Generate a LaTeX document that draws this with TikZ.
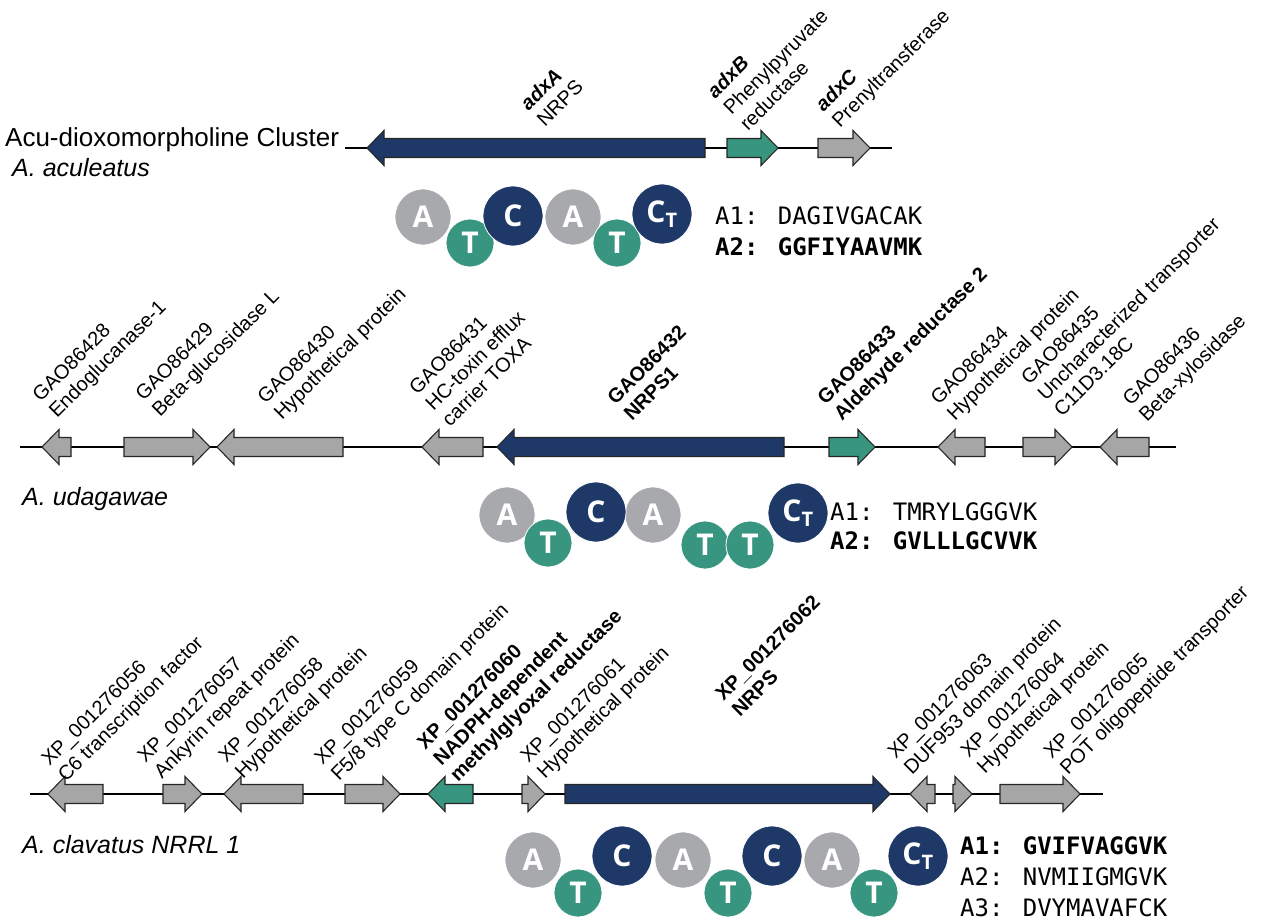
\documentclass[tikz,border=0pt]{standalone}
\usepackage{fontspec}
\setmainfont{Liberation Sans}
\newfontfamily\seqfont{DejaVu Sans Mono}
\newfontfamily\domfont{Open Sans}
\definecolor{nrpsblue}{RGB}{30,57,104}
\definecolor{redgreen}{RGB}{56,150,128}
\definecolor{othergray}{RGB}{166,166,166}
\definecolor{domgray}{RGB}{168,169,173}
\tikzset{
  backbone/.style={line width=2.6pt, black},
  genebox/.style={draw=black!85, line width=1.1pt, line join=miter},
  glabel/.style={rotate=45, anchor=south west, align=left, inner sep=0pt,
    text depth=0pt, font=\fontsize{20}{23}\selectfont},
  species/.style={anchor=base west, inner sep=0pt,
    font=\fontsize{25}{28}\selectfont\itshape},
  dom/.style={circle, inner sep=0pt, text=white, draw=white, line width=0.8pt,
    font=\fontsize{30}{30}\domfont\bfseries},
  adom/.style={dom, fill=domgray, minimum size=56pt},
  tdom/.style={dom, fill=redgreen, minimum size=48pt, text depth=-6pt},
  cdom/.style={dom, fill=nrpsblue, minimum size=60pt},
  seq/.style={anchor=west, inner sep=0pt, font=\fontsize{24}{24}\seqfont}
}
% colour, tail x, tip x, y, name
\newcommand{\gene}[5]{
  \pgfmathsetmacro{\gdir}{sign(#3-#2)}
  \pgfmathsetmacro{\ghead}{#3-\gdir*min(17,abs(#3-#2))}
  \draw[genebox, fill=#1] (#2,#4-9.5) -- (\ghead,#4-9.5) -- (\ghead,#4-17.5)
    -- (#3,#4) -- (\ghead,#4+17.5) -- (\ghead,#4+9.5) -- (#2,#4+9.5) -- cycle;
  \coordinate (#5) at ({(#2+#3)/2},#4);
}
\newcommand{\ctdom}{C\textsubscript{\fontsize{20}{20}\selectfont T}}

\begin{document}
\begin{tikzpicture}[x=1pt, y=-1pt]
  \useasboundingbox (0,0) rectangle (1268,917);

  % Aspergillus aculeatus
  \node[anchor=base west, inner sep=0pt, font=\fontsize{26}{28}\selectfont] (title) at (5,147) {Acu-dioxomorpholine Cluster};
  \node[species] (sp1) at (12,177) {A. aculeatus};
  \coordinate (topL) at (345,148);
  \coordinate (topR) at (892,148);
  \draw[backbone] (topL) -- (topR);
  \gene{nrpsblue}{705}{367}{148}{adxA}
  \gene{redgreen}{727}{778}{148}{adxB}
  \gene{othergray}{818}{870}{148}{adxC}
  \node[glabel] (ladxA) at (545,128) {\textbf{\textit{adxA}}\\NRPS};
  \node[glabel] (ladxB) at (748,132) {\textbf{\textit{adxB}}\\Phenylpyruvate\\reductase};
  \node[glabel] (ladxC) at (840,129) {\textbf{\textit{adxC}}\\Prenyltransferase};

  \node[adom] (a11) at (423,217) {A};
  \node[adom] (a12) at (573,217) {A};
  \node[tdom] (t11) at (470,243) {T};
  \node[tdom] (t12) at (617,243) {T};
  \node[cdom] (c11) at (513,216) {C};
  \node[cdom] (c12) at (662,214) {\ctdom};
  \node[seq] (s11) at (715,216) {A1: DAGIVGACAK};
  \node[seq, font=\fontsize{24}{24}\seqfont\bfseries] (s12) at (715,247) {A2: GGFIYAAVMK};

  % Aspergillus udagawae
  \node[species] (sp2) at (22,505) {A. udagawae};
  \coordinate (midL) at (20,447);
  \coordinate (midR) at (1176,447);
  \draw[backbone] (midL) -- (midR);
  \gene{othergray}{71}{42}{447}{g428}
  \gene{othergray}{124}{210}{447}{g429}
  \gene{othergray}{343}{217}{447}{g430}
  \gene{othergray}{483}{422}{447}{g431}
  \gene{nrpsblue}{784}{497}{447}{g432}
  \gene{redgreen}{829}{875}{447}{g433}
  \gene{othergray}{985}{938}{447}{g434}
  \gene{othergray}{1023}{1072}{447}{g435}
  \gene{othergray}{1149}{1100}{447}{g436}
  \node[glabel] (l428) at (57,419) {GAO86428\\Endoglucanase-1};
  \node[glabel] (l429) at (160,418) {GAO86429\\Beta-glucosidase L};
  \node[glabel] (l430) at (282,421) {GAO86430\\Hypothetical protein};
  \node[glabel] (l431) at (450,428) {GAO86431\\HC-toxin efflux\\carrier TOXA};
  \node[glabel, font=\fontsize{20}{23}\selectfont\bfseries] (l432) at (632,422) {GAO86432\\NRPS1};
  \node[glabel, font=\fontsize{20}{23}\selectfont\bfseries] (l433) at (842,422) {GAO86433\\Aldehyde reductase 2};
  \node[glabel] (l434) at (955,422) {GAO86434\\Hypothetical protein};
  \node[glabel] (l435) at (1062,418) {GAO86435\\Uncharacterized transporter\\C11D3.18C};
  \node[glabel] (l436) at (1147,423) {GAO86436\\Beta-xylosidase};

  \node[adom] (a21) at (507,515) {A};
  \node[adom] (a22) at (653,515) {A};
  \node[tdom] (t21) at (548,543) {T};
  \node[tdom] (t22) at (705,545) {T};
  \node[tdom] (t23) at (750,545) {T};
  \node[cdom] (c21) at (596,512) {C};
  \node[cdom] (c22) at (798,513) {\ctdom};
  \node[seq] (s21) at (830,512) {A1: TMRYLGGGVK};
  \node[seq, font=\fontsize{24}{24}\seqfont\bfseries] (s22) at (830,541) {A2: GVLLLGCVVK};

  % Aspergillus clavatus
  \node[species] (sp3) at (22,853) {A. clavatus NRRL 1};
  \coordinate (botL) at (30,794);
  \coordinate (botR) at (1103,794);
  \draw[backbone] (botL) -- (botR);
  \gene{othergray}{103}{48}{794}{x056}
  \gene{othergray}{163}{202}{794}{x057}
  \gene{othergray}{303}{224}{794}{x058}
  \gene{othergray}{345}{400}{794}{x059}
  \gene{redgreen}{473}{428}{794}{x060}
  \gene{othergray}{522}{545}{794}{x061}
  \gene{nrpsblue}{565}{890}{794}{x062}
  \gene{othergray}{935}{910}{794}{x063}
  \gene{othergray}{953}{972}{794}{x064}
  \gene{othergray}{1000}{1080}{794}{x065}
  \node[glabel] (l056) at (66,783) {XP\_001276056\\C6 transcription factor};
  \node[glabel] (l057) at (162,780) {XP\_001276057\\Ankyrin repeat protein};
  \node[glabel] (l058) at (243,780) {XP\_001276058\\Hypothetical protein};
  \node[glabel] (l059) at (339,782) {XP\_001276059\\F5/8 type C domain protein};
  \node[glabel, font=\fontsize{20}{23}\selectfont\bfseries] (l060) at (458,783) {XP\_001276060\\NADPH-dependent\\methylglyoxal reductase};
  \node[glabel] (l061) at (545,780) {XP\_001276061\\Hypothetical protein};
  \node[glabel, font=\fontsize{20}{23}\selectfont\bfseries] (l062) at (740,718) {XP\_001276062\\NRPS};
  \node[glabel] (l063) at (912,776) {XP\_001276063\\DUF953 domain protein};
  \node[glabel] (l064) at (985,775) {XP\_001276064\\Hypothetical protein};
  \node[glabel] (l065) at (1068,776) {XP\_001276065\\POT oligopeptide transporter};

  \node[adom] (a31) at (533,860) {A};
  \node[adom] (a32) at (683,860) {A};
  \node[adom] (a33) at (832,860) {A};
  \node[tdom] (t31) at (578,893) {T};
  \node[tdom] (t32) at (728,893) {T};
  \node[tdom] (t33) at (874,893) {T};
  \node[cdom] (c31) at (622,856) {C};
  \node[cdom] (c32) at (772,856) {C};
  \node[cdom] (c33) at (918,856) {\ctdom};
  \node[seq, font=\fontsize{24}{24}\seqfont\bfseries] (s31) at (960,846) {A1: GVIFVAGGVK};
  \node[seq] (s32) at (960,877) {A2: NVMIIGMGVK};
  \node[seq] (s33) at (960,908) {A3: DVYMAVAFCK};
\end{tikzpicture}
\end{document}
